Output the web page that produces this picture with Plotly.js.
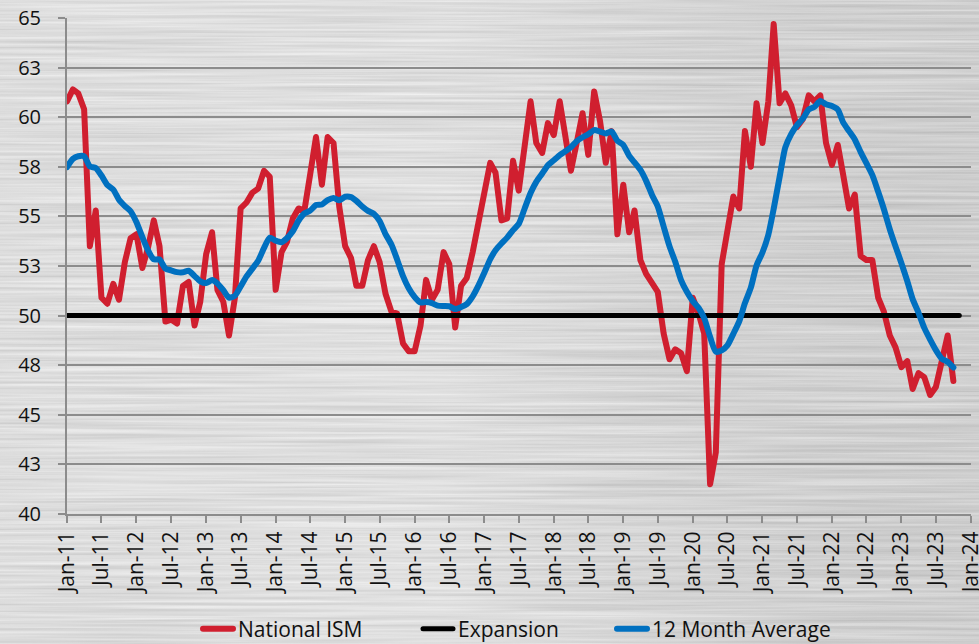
<!DOCTYPE html>
<html>
<head>
<meta charset="utf-8">
<script src="https://cdn.plot.ly/plotly-3.0.1.min.js"></script>
<style>
html, body { margin: 0; padding: 0; width: 979px; height: 644px; overflow: hidden; background: #d9d9d9; }
#bg { position: absolute; left: 0; top: 0; }
#chart { position: absolute; left: 0; top: 0; width: 979px; height: 644px; }
#chart .js-line { stroke-linejoin: round; stroke-linecap: round; }
#chart .legendlines path { stroke-linecap: round; }
</style>
</head>
<body>
<svg id="bg" width="979" height="644" xmlns="http://www.w3.org/2000/svg">
  <defs>
    <filter id="brush" filterUnits="userSpaceOnUse" x="0" y="0" width="979" height="644" color-interpolation-filters="sRGB">
      <feTurbulence type="fractalNoise" baseFrequency="0.004 0.32" numOctaves="3" seed="7"/>
      <feColorMatrix type="matrix" values="0.2 0 0 0 0.76  0.2 0 0 0 0.76  0.2 0 0 0 0.76  0 0 0 0 1"/>
    </filter>
    <linearGradient id="shade" x1="0" y1="0" x2="1" y2="0">
      <stop offset="0" stop-color="#ffffff" stop-opacity="0.05"/>
      <stop offset="0.45" stop-color="#ffffff" stop-opacity="0.12"/>
      <stop offset="1" stop-color="#000000" stop-opacity="0.06"/>
    </linearGradient>
  </defs>
  <rect x="0" y="0" width="979" height="644" filter="url(#brush)"/>
  <rect x="0" y="0" width="979" height="644" fill="url(#shade)"/>
</svg>
<div id="chart"></div>
<script>
// ---- Data ----
const months = [
  '2011-01','2011-02','2011-03','2011-04','2011-05','2011-06','2011-07','2011-08','2011-09','2011-10','2011-11','2011-12',
  '2012-01','2012-02','2012-03','2012-04','2012-05','2012-06','2012-07','2012-08','2012-09','2012-10','2012-11','2012-12',
  '2013-01','2013-02','2013-03','2013-04','2013-05','2013-06','2013-07','2013-08','2013-09','2013-10','2013-11','2013-12',
  '2014-01','2014-02','2014-03','2014-04','2014-05','2014-06','2014-07','2014-08','2014-09','2014-10','2014-11','2014-12',
  '2015-01','2015-02','2015-03','2015-04','2015-05','2015-06','2015-07','2015-08','2015-09','2015-10','2015-11','2015-12',
  '2016-01','2016-02','2016-03','2016-04','2016-05','2016-06','2016-07','2016-08','2016-09','2016-10','2016-11','2016-12',
  '2017-01','2017-02','2017-03','2017-04','2017-05','2017-06','2017-07','2017-08','2017-09','2017-10','2017-11','2017-12',
  '2018-01','2018-02','2018-03','2018-04','2018-05','2018-06','2018-07','2018-08','2018-09','2018-10','2018-11','2018-12',
  '2019-01','2019-02','2019-03','2019-04','2019-05','2019-06','2019-07','2019-08','2019-09','2019-10','2019-11','2019-12',
  '2020-01','2020-02','2020-03','2020-04','2020-05','2020-06','2020-07','2020-08','2020-09','2020-10','2020-11','2020-12',
  '2021-01','2021-02','2021-03','2021-04','2021-05','2021-06','2021-07','2021-08','2021-09','2021-10','2021-11','2021-12',
  '2022-01','2022-02','2022-03','2022-04','2022-05','2022-06','2022-07','2022-08','2022-09','2022-10','2022-11','2022-12',
  '2023-01','2023-02','2023-03','2023-04','2023-05','2023-06','2023-07','2023-08','2023-09','2023-10'
];

const nationalISM = [
  60.8, 61.4, 61.2, 60.4, 53.5, 55.3, 50.9, 50.6, 51.6, 50.8, 52.7, 53.9,
  54.1, 52.4, 53.4, 54.8, 53.5, 49.7, 49.8, 49.6, 51.5, 51.7, 49.5, 50.7,
  53.1, 54.2, 51.3, 50.7, 49.0, 50.9, 55.4, 55.7, 56.2, 56.4, 57.3, 57.0,
  51.3, 53.2, 53.7, 54.9, 55.4, 55.3, 57.1, 59.0, 56.6, 59.0, 58.7, 55.5,
  53.5, 52.9, 51.5, 51.5, 52.8, 53.5, 52.7, 51.1, 50.2, 50.1, 48.6, 48.2,
  48.2, 49.5, 51.8, 50.8, 51.3, 53.2, 52.6, 49.4, 51.5, 51.9, 53.2, 54.7,
  56.0, 57.7, 57.2, 54.8, 54.9, 57.8, 56.3, 58.8, 60.8, 58.7, 58.2, 59.7,
  59.1, 60.8, 59.3, 57.3, 58.7, 60.2, 58.1, 61.3, 59.8, 57.7, 59.3, 54.1,
  56.6, 54.2, 55.3, 52.8, 52.1, 51.7, 51.2, 49.1, 47.8, 48.3, 48.1, 47.2,
  50.9, 50.1, 49.1, 41.5, 43.1, 52.6, 54.2, 56.0, 55.4, 59.3, 57.5, 60.7,
  58.7, 60.8, 64.7, 60.7, 61.2, 60.6, 59.5, 59.9, 61.1, 60.8, 61.1, 58.7,
  57.6, 58.6, 57.1, 55.4, 56.1, 53.0, 52.8, 52.8, 50.9, 50.2, 49.0, 48.4,
  47.4, 47.7, 46.3, 47.1, 46.9, 46.0, 46.4, 47.6, 49.0, 46.7
];

const twelveMonthAverage = [
  57.49, 57.90, 58.03, 58.03, 57.52, 57.44, 57.06, 56.58, 56.35, 55.84, 55.52, 55.26,
  54.70, 53.95, 53.30, 52.83, 52.83, 52.37, 52.28, 52.19, 52.18, 52.26, 51.99, 51.73,
  51.64, 51.79, 51.62, 51.28, 50.90, 51.00, 51.47, 51.98, 52.37, 52.76, 53.41, 53.93,
  53.78, 53.70, 53.90, 54.25, 54.78, 55.15, 55.29, 55.57, 55.60, 55.82, 55.93, 55.81,
  55.99, 55.97, 55.78, 55.50, 55.28, 55.13, 54.77, 54.11, 53.58, 52.83, 51.99, 51.38,
  50.94, 50.66, 50.68, 50.63, 50.50, 50.48, 50.47, 50.33, 50.43, 50.58, 50.97, 51.51,
  52.16, 52.84, 53.29, 53.63, 53.93, 54.31, 54.62, 55.40, 56.18, 56.74, 57.16, 57.58,
  57.83, 58.09, 58.27, 58.48, 58.79, 58.99, 59.14, 59.35, 59.27, 59.18, 59.28, 58.81,
  58.60, 58.05, 57.72, 57.34, 56.79, 56.08, 55.51, 54.49, 53.49, 52.71, 51.78, 51.20,
  50.73, 50.38, 49.87, 48.93, 48.18, 48.25, 48.50, 49.08, 49.71, 50.63, 51.41, 52.53,
  53.18, 54.08, 55.38, 56.98, 58.48, 59.15, 59.59, 59.92, 60.39, 60.52, 60.82, 60.65,
  60.56, 60.38, 59.74, 59.30, 58.88, 58.24, 57.68, 57.09, 56.24, 55.36, 54.35, 53.49,
  52.64, 51.73, 50.83, 50.14, 49.38, 48.79, 48.26, 47.83, 47.67, 47.38
];

const expansionMonths = ['2011-01', '2023-11'];
const expansionValues = [50, 50];

const seriesNames = ['National ISM', 'Expansion', '12 Month Average'];
const yTickVals = [40, 42.5, 45, 47.5, 50, 52.5, 55, 57.5, 60, 62.5, 65];
const yTickText = ['40', '43', '45', '48', '50', '53', '55', '58', '60', '63', '65'];
const xRange = ['2011-01-01', '2024-01-01 12:00'];

// ---- Chart ----
const gridGray = '#8c8c8c';

const traces = [
  {
    x: months, y: nationalISM, name: seriesNames[0],
    type: 'scatter', mode: 'lines',
    line: { color: '#D01F2F', width: 6 },
    legendwidth: 175
  },
  {
    x: expansionMonths, y: expansionValues, name: seriesNames[1],
    type: 'scatter', mode: 'lines',
    line: { color: '#000000', width: 5 },
    legendwidth: 149
  },
  {
    x: months, y: twelveMonthAverage, name: seriesNames[2],
    type: 'scatter', mode: 'lines',
    line: { color: '#0070C0', width: 6, shape: 'spline', smoothing: 0.6 }
  }
];

const layout = {
  width: 979, height: 644,
  margin: { l: 67, r: 8, t: 18, b: 130, pad: 0 },
  paper_bgcolor: 'rgba(0,0,0,0)',
  plot_bgcolor: 'rgba(0,0,0,0)',
  font: { family: '"Open Sans", sans-serif', color: '#111111', size: 20 },
  hovermode: false,
  xaxis: {
    type: 'date', range: xRange,
    tick0: '2011-01-01', dtick: 'M6', tickformat: '%b-%y',
    tickangle: -90,
    tickfont: { size: 21 },
    ticklabeloverflow: 'allow',
    showgrid: false, zeroline: false,
    showline: true, linecolor: gridGray, linewidth: 2,
    ticks: 'outside', ticklen: 7, tickwidth: 2, tickcolor: gridGray
  },
  yaxis: {
    range: [40, 65],
    tickmode: 'array', tickvals: yTickVals, ticktext: yTickText,
    tickfont: { size: 20 },
    showgrid: true, gridcolor: gridGray, gridwidth: 2,
    zeroline: false,
    showline: true, linecolor: gridGray, linewidth: 2,
    ticks: 'outside', ticklen: 7, tickwidth: 2, tickcolor: gridGray,
    ticklabelstandoff: 13
  },
  showlegend: true,
  legend: {
    orientation: 'h',
    xref: 'container', x: 198 / 979, xanchor: 'left',
    yref: 'container', y: 15 / 644, yanchor: 'middle',
    font: { size: 21, color: '#111111' },
    bgcolor: 'rgba(0,0,0,0)',
    traceorder: 'normal'
  }
};

Plotly.newPlot('chart', traces, layout, { staticPlot: true, displayModeBar: false });
</script>
</body>
</html>
